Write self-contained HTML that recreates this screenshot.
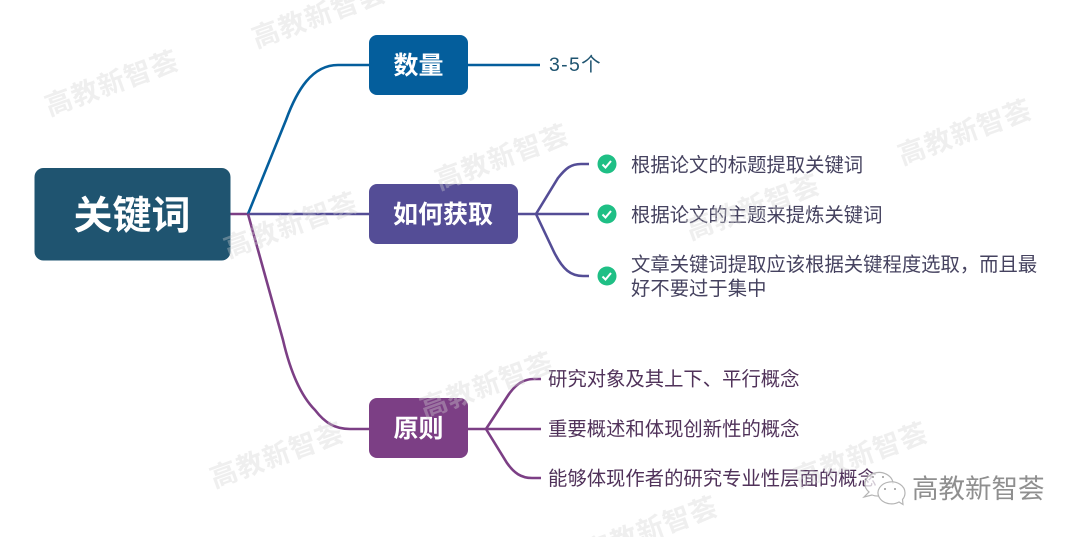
<!DOCTYPE html>
<html lang="zh"><head><meta charset="utf-8"><style>
html,body{margin:0;padding:0;background:#fff;width:1080px;height:537px;overflow:hidden}
svg{display:block;overflow:hidden}
text{font-family:"Liberation Sans","Noto Sans CJK SC",sans-serif}
.w{font-size:27px;fill:#d4d4d4;fill-opacity:.36;font-weight:700;text-anchor:middle;letter-spacing:1px}
.b{font-weight:700;fill:#fff;text-anchor:middle}
.p{font-size:19.35px;fill:#45425f}
.q{font-size:19.35px;fill:#50325a}
</style></head><body>
<svg width="1080" height="537" viewBox="0 0 1080 537" xmlns="http://www.w3.org/2000/svg">
<defs><clipPath id="c"><rect width="1080" height="537"/></clipPath></defs>
<rect width="1080" height="537" fill="#fff"/>
<g fill="none" stroke-width="2.6" stroke-linecap="butt">
<path d="M230 214H248" stroke="#7c3f85"/>
<path d="M248 214L286 120C297 90 312 65 338 65H370" stroke="#045e9c"/>
<path d="M248 214H370" stroke="#544d96"/>
<path d="M248 214L283 340C290 370 300 395 315 410C325 423 335 429 350 429H370" stroke="#7c3f85"/>
<path d="M467 65H540" stroke="#045e9c"/>
<path d="M517 214H589" stroke="#544d96"/>
<path d="M536 214L558 178C566 168 571 164 581 164H589" stroke="#544d96"/>
<path d="M536 214L554 252C563 270 571 276 583 276H589" stroke="#544d96"/>
<path d="M467 429H541" stroke="#7c3f85"/>
<path d="M486 429L507 397C514 386 522 379 534 379H541" stroke="#7c3f85"/>
<path d="M486 429L507 463C514 473 521 478 532 478H541" stroke="#7c3f85"/>
</g>
<rect x="34.500" y="168" width="196" height="92.500" rx="9" fill="#1f5470"/>
<text class="b" x="132" y="229" font-size="39">关键词</text>
<rect x="369" y="35" width="99" height="60" rx="8" fill="#045e9c"/>
<text class="b" x="418.500" y="74" font-size="25">数量</text>
<rect x="369" y="184" width="149" height="60" rx="8" fill="#544d96"/>
<text class="b" x="443" y="223" font-size="25">如何获取</text>
<rect x="369" y="398" width="99" height="60" rx="8" fill="#7c3f85"/>
<text class="b" x="418.500" y="437" font-size="25">原则</text>
<text x="549" y="71" font-size="19.500" letter-spacing="1.300" fill="#1f5470">3-5个</text>
<g fill="#1fbf85">
<circle cx="607" cy="164" r="9.500"/><circle cx="607" cy="214" r="9.500"/><circle cx="607" cy="276" r="9.500"/>
</g>
<g fill="none" stroke="#fff" stroke-width="2">
<path d="M602.500 164.500l3 3 5.500-6.500"/><path d="M602.500 214.500l3 3 5.500-6.500"/><path d="M602.500 276.500l3 3 5.500-6.500"/>
</g>
<text class="p" x="631" y="171.500">根据论文的标题提取关键词</text>
<text class="p" x="631" y="221.500">根据论文的主题来提炼关键词</text>
<text class="p" x="631" y="271">文章关键词提取应该根据关键程度选取，而且最</text>
<text class="p" x="631" y="295">好不要过于集中</text>
<text class="q" x="548" y="385.500">研究对象及其上下、平行概念</text>
<text class="q" x="548" y="435.500">重要概述和体现创新性的概念</text>
<text class="q" x="548" y="485">能够体现作者的研究专业性层面的概念</text>
<g clip-path="url(#c)">
<text class="w" transform="translate(115,92) rotate(-20)">高教新智荟</text>
<text class="w" transform="translate(322,24) rotate(-20)">高教新智荟</text>
<text class="w" transform="translate(505,166) rotate(-20)">高教新智荟</text>
<text class="w" transform="translate(294,234) rotate(-20)">高教新智荟</text>
<text class="w" transform="translate(756,216) rotate(-20)">高教新智荟</text>
<text class="w" transform="translate(968,141) rotate(-20)">高教新智荟</text>
<text class="w" transform="translate(490,394) rotate(-20)">高教新智荟</text>
<text class="w" transform="translate(280,464) rotate(-20)">高教新智荟</text>
<text class="w" transform="translate(864,464) rotate(-20)">高教新智荟</text>
<text class="w" transform="translate(654,538) rotate(-20)">高教新智荟</text>
</g>
<g fill="#fff" fill-opacity=".75" stroke="#b5b5b5" stroke-width="1.200">
<path d="M893 484a14 11.500 0 1 0 -24 8l-5 5 8-2a16 16 0 0 0 7 1"/>
<path d="M905 493a13.500 11 0 1 0 -6 9l4 2.500-.5-5a10 10 0 0 0 2.500-6.500z"/>
</g>
<g fill="#999"><circle cx="885" cy="489" r="1"/><circle cx="895" cy="489" r="1"/><circle cx="873" cy="477" r="1"/><circle cx="883" cy="477" r="1"/></g>
<text x="912" y="498" font-size="26.500" fill="#8f8f8f">高教新智荟</text>
</svg>
</body></html>
